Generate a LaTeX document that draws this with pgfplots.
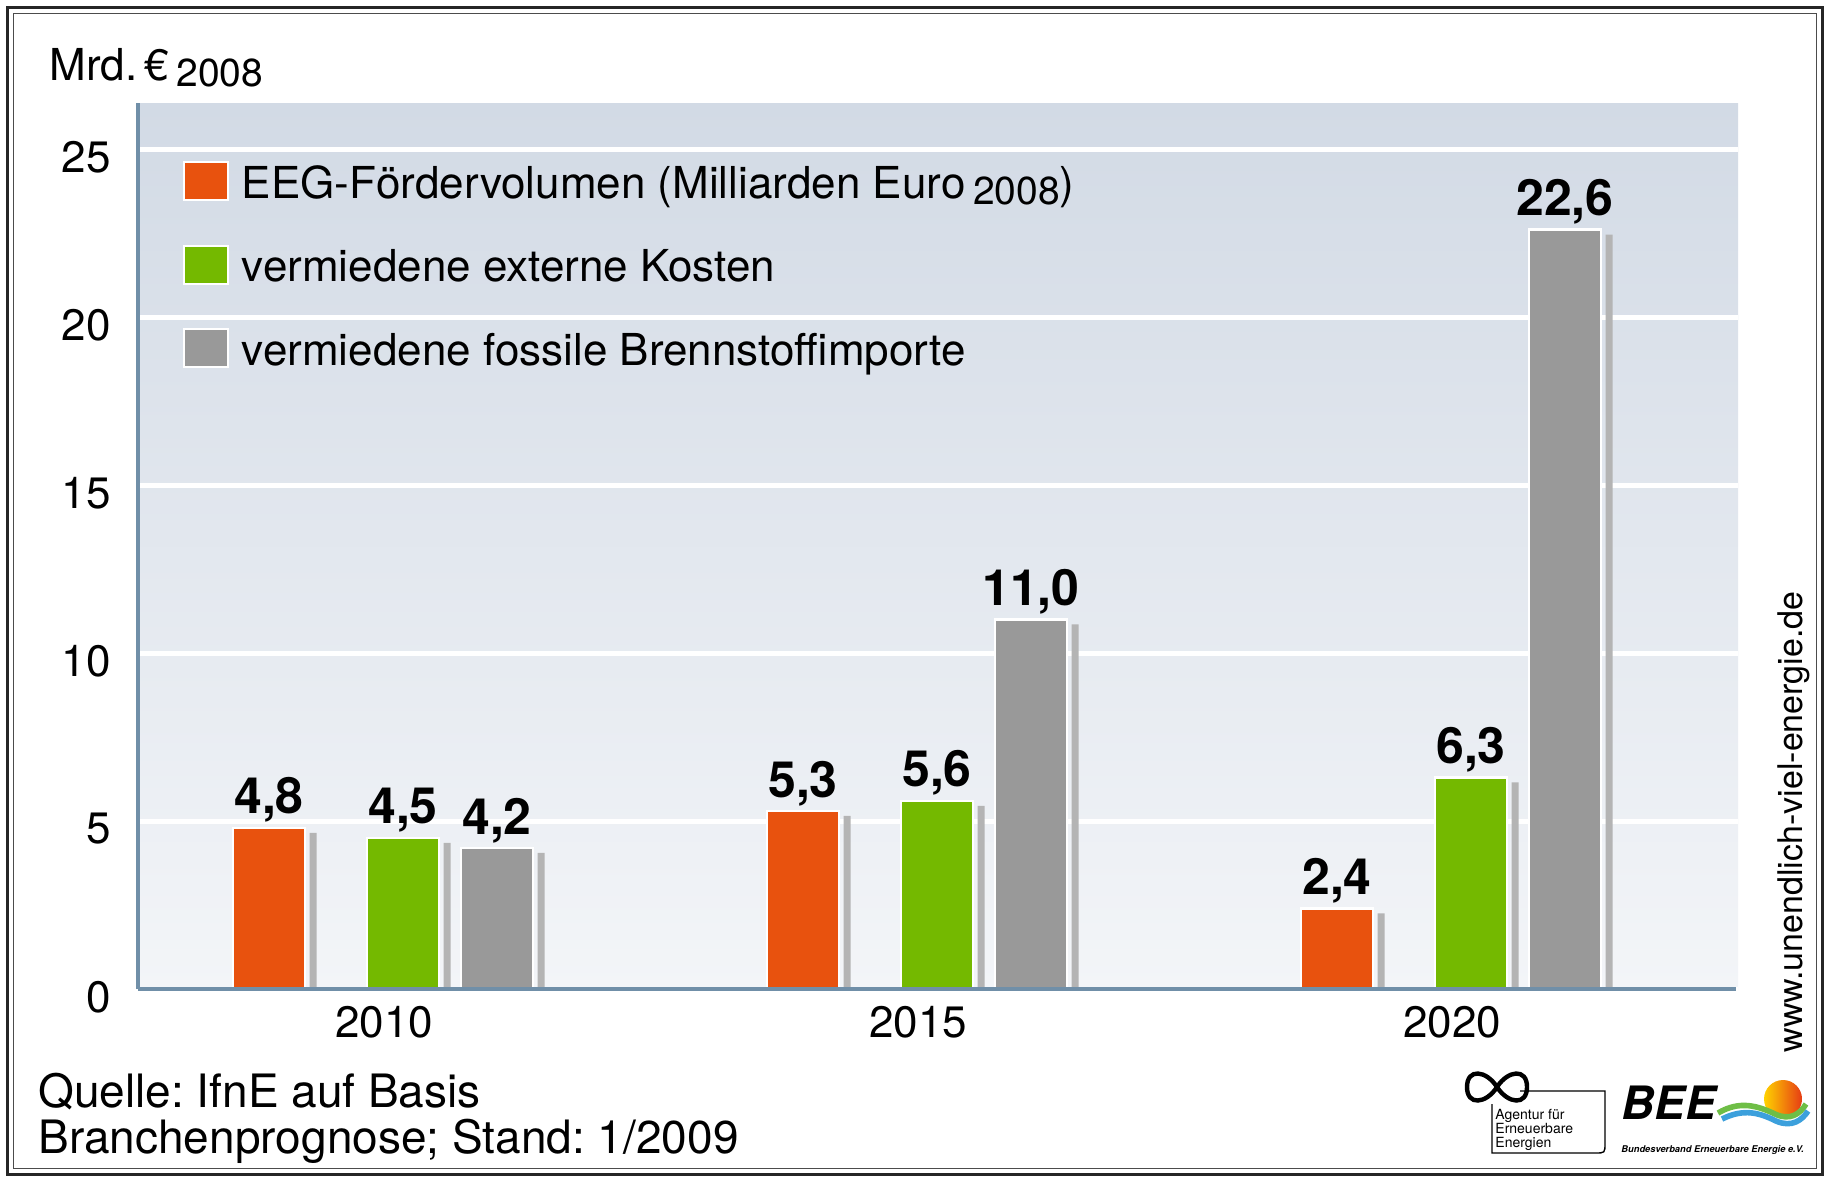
\documentclass[border=0pt]{standalone}
\usepackage{pgfplots}
\pgfplotsset{compat=1.18}
\usepackage{fontspec}
\setmainfont{TeX Gyre Heros}
\definecolor{cOr}{RGB}{232,82,14}
\definecolor{cGr}{RGB}{116,185,0}
\definecolor{cGy}{RGB}{153,153,153}
\definecolor{cSh}{RGB}{180,180,180}
\definecolor{cAx}{RGB}{112,143,168}
\definecolor{bgTop}{RGB}{210,218,229}
\definecolor{bgBot}{RGB}{243,245,248}
\definecolor{sunL}{RGB}{255,210,0}
\definecolor{sunR}{RGB}{230,60,20}
\definecolor{waveB}{RGB}{60,160,220}
\definecolor{waveG}{RGB}{110,190,70}
\begin{document}
\frenchspacing
\begin{tikzpicture}
\begin{scope}[x=0.5pt,y=-0.5pt]
\path[use as bounding box] (0,0) rectangle (1829,1180);
\fill[white] (0,0) rectangle (1829,1180);
\end{scope}
\begin{axis}[
  at={(69pt,-494.5pt)}, anchor=south west,
  scale only axis, width=800pt, height=443pt,
  xmin=138, xmax=1738, ymin=0, ymax=26.37,
  clip=false,
  axis line style={draw=none},
  axis background/.style={shade, top color=bgTop, bottom color=bgBot, draw=none},
  ymajorgrids, grid style={white, line width=2.5pt},
  ytick={0,5,10,15,20,25},
  xtick={384,918,1452}, xticklabels={2010,2015,2020},
  major tick length=0pt,
  tick style={draw=none},
  /pgf/number format/assume math mode=true,
  tick label style={font=\fontsize{22}{22}\selectfont, inner sep=0pt, text=black},
  yticklabel style={anchor=east, xshift=-13.5pt, yshift=-4pt},
  xticklabel style={anchor=north, yshift=-8.5pt},
  legend style={at={(0.0281,0.934)}, anchor=north west, draw=none, fill=none,
    inner sep=0pt, outer sep=0pt, row sep=17.25pt, font=\fontsize{22}{22}\selectfont,
    nodes={inner sep=0pt, text height=18pt, text depth=6pt},
    /tikz/every odd column/.append style={column sep=6.5pt}},
  legend cell align=left,
  every node near coord/.append style={font=\bfseries\fontsize{25}{25}\selectfont, inner sep=0pt, anchor=south, yshift=2pt, text=black},
]
% shadows
\addplot[ybar, bar shift=0pt, bar width=7, fill=cSh, draw=none, forget plot]
  coordinates {(313,4.65) (847,5.15) (1381,2.25)};
\addplot[ybar, bar shift=0pt, bar width=7, fill=cSh, draw=none, forget plot]
  coordinates {(447,4.35) (981,5.45) (1515,6.15)};
\addplot[ybar, bar shift=0pt, bar width=7, fill=cSh, draw=none, forget plot]
  coordinates {(541,4.05) (1075,10.85) (1609,22.45)};
% bars
\addplot[ybar, bar shift=0pt, bar width=72, fill=cOr, draw=white, line width=1.2pt,
  nodes near coords={\pgfmathprintnumber[fixed,fixed zerofill,precision=1,use comma]{\pgfplotspointmeta}},
  legend image code/.code={\draw[draw=white,line width=1pt,fill=cOr] (0pt,-7pt) rectangle (22pt,12pt);}]
  coordinates {(269,4.8) (803,5.3) (1337,2.4)};
\addlegendentry{EEG-Fördervolumen (Milliarden Euro\,\raisebox{-3pt}{\fontsize{19.5}{19.5}\selectfont 2008})}
\addplot[ybar, bar shift=0pt, bar width=72, fill=cGr, draw=white, line width=1.2pt,
  nodes near coords={\pgfmathprintnumber[fixed,fixed zerofill,precision=1,use comma]{\pgfplotspointmeta}},
  legend image code/.code={\draw[draw=white,line width=1pt,fill=cGr] (0pt,-7pt) rectangle (22pt,12pt);}]
  coordinates {(403,4.5) (937,5.6) (1471,6.3)};
\addlegendentry{vermiedene externe Kosten}
\addplot[ybar, bar shift=0pt, bar width=72, fill=cGy, draw=white, line width=1.2pt,
  nodes near coords={\pgfmathprintnumber[fixed,fixed zerofill,precision=1,use comma]{\pgfplotspointmeta}},
  legend image code/.code={\draw[draw=white,line width=1pt,fill=cGy] (0pt,-7pt) rectangle (22pt,12pt);}]
  coordinates {(497,4.2) (1031,11.0) (1565,22.6)};
\addlegendentry{vermiedene fossile Brennstoffimporte}
\draw[cAx, line width=1.75pt] (axis cs:138,0) -- (axis cs:1736,0);
\draw[cAx, line width=2pt] (axis cs:138,0) -- (axis cs:138,26.37);
\end{axis}
\begin{scope}[x=0.5pt,y=-0.5pt]
\draw[line width=1.5pt, black!85] (7,7) rectangle (1822,1174);
\draw[line width=0.5pt, black!70] (13,13) rectangle (1816,1168);
\node[anchor=base west, inner sep=0pt, font=\fontsize{22}{22}\selectfont] at (49,80)
  {Mrd.\,€\,\raisebox{-3pt}{\fontsize{19.5}{19.5}\selectfont 2008}};
\node[anchor=base west, inner sep=0pt, font=\fontsize{23}{23}\selectfont] at (38,1107) {Quelle: IfnE auf Basis};
\node[anchor=base west, inner sep=0pt, font=\fontsize{23}{23}\selectfont] at (38,1153) {Branchenprognose; Stand: 1/2009};
\node[rotate=90, inner sep=0pt, font=\fontsize{17}{17}\selectfont] at (1794,822) {www.unendlich-viel-energie.de};
% Agentur logo
\draw[line width=2.2pt] (1497,1087) .. controls (1508,1070) and (1527,1068) .. (1527,1087) .. controls (1527,1106) and (1508,1104) .. (1497,1087)
  .. controls (1486,1070) and (1467,1068) .. (1467,1087) .. controls (1467,1106) and (1486,1104) .. (1497,1087);
\draw[line width=0.7pt] (1520,1091) -- (1605,1091) -- (1605,1143) .. controls (1605,1153) .. (1595,1153) -- (1492,1153) -- (1492,1104);
\node[anchor=base west, align=left, inner sep=0pt, font=\fontsize{7}{7}\selectfont] at (1495,1147) {Agentur für\\Erneuerbare\\Energien};
% BEE logo
\node[anchor=base west, inner sep=0pt, font=\bfseries\itshape\fontsize{23}{23}\selectfont] at (1621,1119) {BEE};
\shade[left color=sunL, right color=sunR] (1783,1099) circle (19);
\draw[line width=2.8pt, waveG] (1718,1113) .. controls (1740,1100) and (1758,1106) .. (1775,1114) .. controls (1790,1121) and (1800,1114) .. (1806,1104);
\draw[line width=2.8pt, waveB] (1722,1119) .. controls (1744,1108) and (1760,1113) .. (1776,1121) .. controls (1792,1128) and (1802,1120) .. (1808,1111);
\node[anchor=base west, inner sep=0pt, font=\bfseries\itshape\fontsize{4.65}{4.65}\selectfont] at (1621,1152) {Bundesverband Erneuerbare Energie e.V.};
\end{scope}
\end{tikzpicture}
\end{document}
